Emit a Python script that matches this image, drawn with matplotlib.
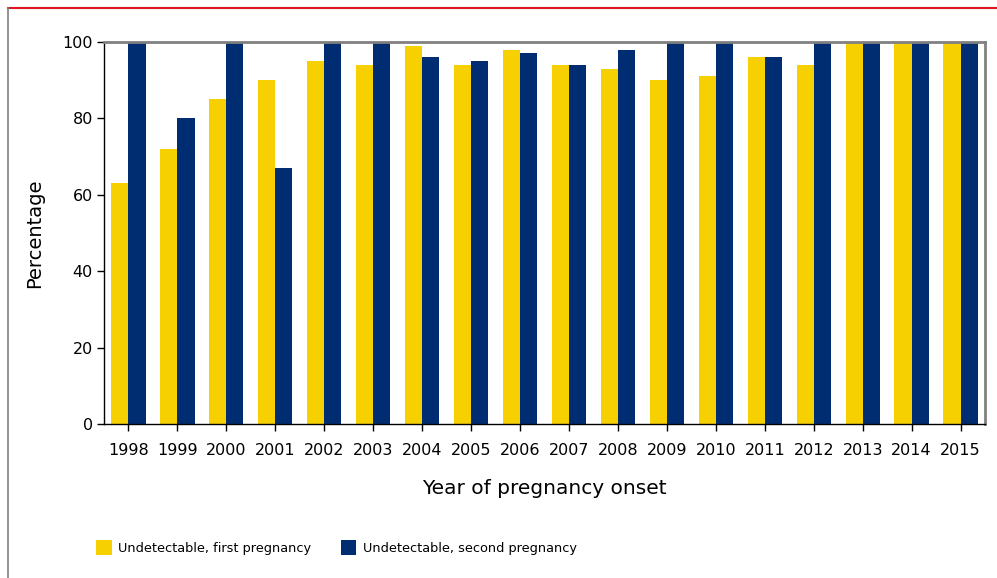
import matplotlib.pyplot as plt
import numpy as np
from matplotlib.lines import Line2D
from matplotlib.patches import Patch

years = ['1998', '1999', '2000', '2001', '2002', '2003', '2004', '2005', '2006',
         '2007', '2008', '2009', '2010', '2011', '2012', '2013', '2014', '2015']
first = [63, 72, 85, 90, 95, 94, 99, 94, 98, 94, 93, 90, 91, 96, 94, 100, 100, 100]
second = [100, 80, 100, 67, 100, 100, 96, 95, 97, 94, 98, 100, 100, 96, 100, 100, 100, 100]
labels = ['Undetectable, first pregnancy', 'Undetectable, second pregnancy']

yellow = '#F6D000'
navy = '#002D72'
W, H = 997, 578

fig = plt.figure(figsize=(W / 100, H / 100), dpi=100)
ax = fig.add_axes([104 / W, (H - 424) / H, 881 / W, (424 - 42) / H])

x = np.arange(len(years))
bw = 0.35
ax.bar(x - bw / 2, first, bw, color=yellow, zorder=2)
ax.bar(x + bw / 2, second, bw, color=navy, zorder=2)

ax.set_xlim(-0.5, len(years) - 0.5)
ax.set_ylim(0, 100)
ax.set_yticks(range(0, 101, 20))
ax.set_xticks(x)
ax.set_xticklabels(years)
ax.tick_params(axis='both', direction='out', length=5, width=1, labelsize=11.5, colors='black')
ax.tick_params(axis='x', pad=9)
ax.tick_params(axis='y', pad=3)

for s in ['top', 'right']:
    ax.spines[s].set_color('#808080')
    ax.spines[s].set_linewidth(2)
for s in ['left', 'bottom']:
    ax.spines[s].set_color('black')
    ax.spines[s].set_linewidth(1)

ax.set_xlabel('Year of pregnancy onset', fontsize=14.5, labelpad=15)
ax.set_ylabel('Percentage', fontsize=14, labelpad=13)

handles = [Patch(facecolor=yellow), Patch(facecolor=navy)]
fig.legend(handles, labels, loc='lower left', bbox_to_anchor=(96 / W, (H - 555) / H),
           ncol=2, frameon=False, fontsize=9.3, handlelength=1.2, handleheight=1.36,
           handletextpad=0.53, columnspacing=2.25, borderpad=0, borderaxespad=0)

# frame lines around the chart
fig.add_artist(Line2D([8 / W, 1], [1 - 8 / H, 1 - 8 / H], color='#E0141E', lw=1.5))
fig.add_artist(Line2D([8 / W, 8 / W], [0, 1 - 8 / H], color='#808080', lw=1.2))

plt.savefig('out.png', dpi=100)
